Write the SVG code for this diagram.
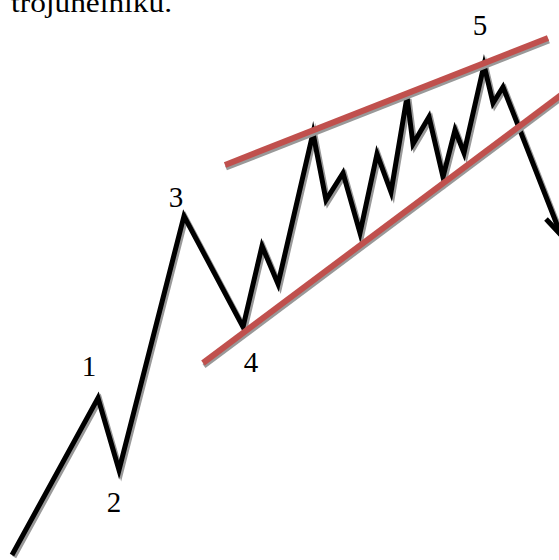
<svg xmlns="http://www.w3.org/2000/svg" width="559" height="560" viewBox="0 0 559 560">
<style>
.lbl{font-family:"Liberation Serif","Times New Roman",serif;font-size:29px;fill:#000}
.wave{fill:none;stroke:#000;stroke-width:5;stroke-linejoin:miter;stroke-miterlimit:6}
.shadow{fill:none;stroke:#999;stroke-width:5;stroke-linejoin:miter;stroke-miterlimit:6}
.trend{fill:none;stroke:#c0504d;stroke-width:6}
.tshadow{fill:none;stroke:#999;stroke-width:5}
</style>
<rect width="559" height="560" fill="#fff"/>
<text class="lbl" x="11" y="12" style="font-size:28px" textLength="161" lengthAdjust="spacingAndGlyphs">trojúhelníku.</text>
<g id="wave-shadow" transform="translate(2,2)">
<path class="shadow" d="M12,555 L98,398 L119,470 L184,216 L243,327 L262,246 L278,284 L313,133 L326,200 L343,173 L360,233 L377,154 L391,192 L407,97 L413,144 L429,117 L443,177 L455,130 L464,153 L484,65 L493,103 L503,87 L561,235"/>
<path class="shadow" d="M546,219 L561,235"/>
</g>
<g id="wave">
<path class="wave" d="M12,555 L98,398 L119,470 L184,216 L243,327 L262,246 L278,284 L313,133 L326,200 L343,173 L360,233 L377,154 L391,192 L407,97 L413,144 L429,117 L443,177 L455,130 L464,153 L484,65 L493,103 L503,87 L561,235"/>
<path class="wave" d="M546,219 L561,235"/>
</g>
<g id="trendlines">
<path class="tshadow" d="M226,168 L549,41"/>
<path class="tshadow" d="M204,366 L566,95"/>
<path class="trend" d="M225,165 L548,38"/>
<path class="trend" d="M203,363 L565,92"/>
</g>
<g id="labels">
<text class="lbl" x="89" y="376" text-anchor="middle">1</text>
<text class="lbl" x="114" y="512" text-anchor="middle">2</text>
<text class="lbl" x="176" y="207" text-anchor="middle">3</text>
<text class="lbl" x="251" y="372" text-anchor="middle">4</text>
<text class="lbl" x="480" y="35" text-anchor="middle">5</text>
</g>
</svg>
